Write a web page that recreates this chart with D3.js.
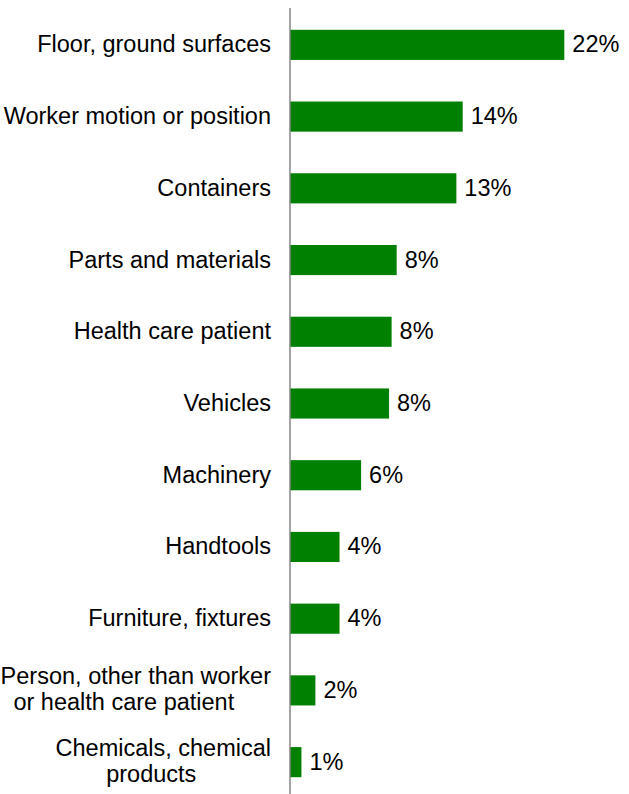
<!DOCTYPE html>
<html>
<head>
<meta charset="utf-8">
<script src="https://cdn.jsdelivr.net/npm/d3@7/dist/d3.min.js"></script>
<style>
  html, body { margin: 0; padding: 0; background: #fff; }
  svg { display: block; }
  text { font-family: "Liberation Sans", Arial, sans-serif; fill: #000; }
</style>
</head>
<body>
<svg id="chart" width="629" height="794"></svg>
<script>
// Sources of injury, share of cases (%)
const categories = [
  "Floor, ground surfaces",
  "Worker motion or position",
  "Containers",
  "Parts and materials",
  "Health care patient",
  "Vehicles",
  "Machinery",
  "Handtools",
  "Furniture, fixtures",
  "Person, other than worker\nor health care patient",
  "Chemicals, chemical\nproducts"
];
const shares = [21.6, 13.6, 13.1, 8.4, 8.0, 7.8, 5.6, 3.9, 3.9, 2.0, 0.9];

const svg = d3.select("#chart");
const axisX = 290;
const fontSize = 23.5;

const y = d3.scaleBand()
  .domain(categories)
  .range([9, 798])
  .paddingInner(0.58)
  .paddingOuter(0.29);

const x = d3.scaleLinear()
  .domain([0, 25])
  .range([axisX, axisX + 317.5]);

const rows = categories.map((c, i) => ({ cat: c, value: shares[i] }));

// bars
svg.append("g")
  .selectAll("rect")
  .data(rows)
  .join("rect")
  .attr("x", x(0))
  .attr("y", d => y(d.cat))
  .attr("width", d => x(d.value) - x(0))
  .attr("height", y.bandwidth())
  .attr("fill", "#008000");

// vertical category axis line
svg.append("line")
  .attr("x1", axisX).attr("x2", axisX)
  .attr("y1", 8).attr("y2", 794)
  .attr("stroke", "#868686")
  .attr("stroke-width", 1.5);

// value labels
svg.append("g")
  .selectAll("text")
  .data(rows)
  .join("text")
  .attr("x", d => x(d.value) + 8)
  .attr("y", d => y(d.cat) + y.bandwidth() / 2 + 7.5)
  .attr("font-size", fontSize)
  .text(d => d3.format(".0f")(d.value) + "%");

// category labels (multi-line labels are centred within their block)
const labelRight = 271;
const lineGap = 26;
const catG = svg.append("g");
rows.forEach(d => {
  const lines = d.cat.split("\n");
  const cy = y(d.cat) + y.bandwidth() / 2;
  if (lines.length === 1) {
    catG.append("text")
      .attr("x", labelRight)
      .attr("y", cy + 7.5)
      .attr("text-anchor", "end")
      .attr("font-size", fontSize)
      .text(lines[0]);
    return;
  }
  const n = lines.length;
  const nodes = lines.map((ln, j) =>
    catG.append("text")
      .attr("y", cy + 7 + (j - (n - 1) / 2) * lineGap)
      .attr("font-size", fontSize)
      .attr("text-anchor", "middle")
      .text(ln));
  const widths = nodes.map(t => t.node().getComputedTextLength());
  const blockW = d3.max(widths);
  const centre = labelRight - blockW / 2;
  nodes.forEach((t, j) => {
    const shift = widths[j] === blockW ? 0 : -12;
    t.attr("x", centre + shift);
  });
});
</script>
</body>
</html>
